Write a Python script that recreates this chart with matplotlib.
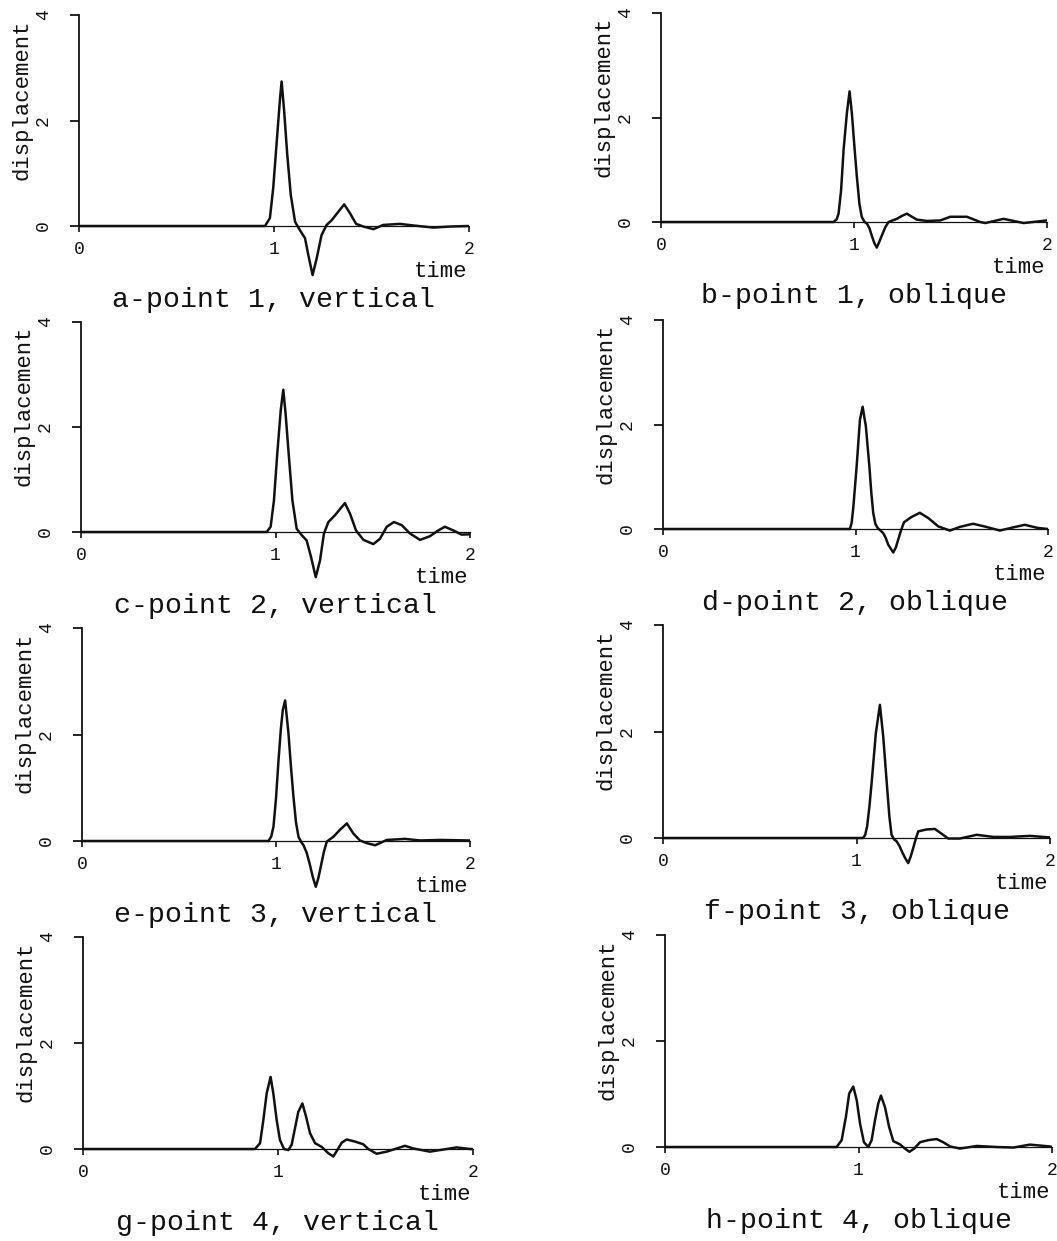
import matplotlib
matplotlib.use("Agg")
import matplotlib.pyplot as plt

plt.rcParams["font.family"] = ["Liberation Mono", "DejaVu Sans Mono"]

# ---------------------------------------------------------------- data
titles = ["a-point 1, vertical", "b-point 1, oblique",
          "c-point 2, vertical", "d-point 2, oblique",
          "e-point 3, vertical", "f-point 3, oblique",
          "g-point 4, vertical", "h-point 4, oblique"]

x_ticks = [0, 1, 2]
y_ticks = [0, 2, 4]
x_label = "time"
y_label = "displacement"

t_a = [0.0, 0.954, 0.979, 0.996, 1.014, 1.031, 1.039, 1.051, 1.068, 1.086,
       1.108, 1.133, 1.159, 1.176, 1.198, 1.219, 1.244, 1.27, 1.296, 1.33,
       1.36, 1.39, 1.421, 1.458, 1.51, 1.56, 1.646, 1.714, 1.817, 1.903, 2.0]
d_a = [0.0, 0.0, 0.15, 0.72, 1.6, 2.42, 2.74, 2.23, 1.35, 0.59,
       0.08, -0.08, -0.23, -0.55, -0.93, -0.61, -0.17, 0.02, 0.11, 0.27,
       0.41, 0.24, 0.04, -0.01, -0.06, 0.02, 0.04, 0.01, -0.03, -0.01, 0.0]

t_b = [0.0, 0.894, 0.91, 0.92, 0.933, 0.946, 0.963, 0.977, 0.989, 1.002,
       1.015, 1.028, 1.04, 1.055, 1.067, 1.08, 1.092, 1.105, 1.118, 1.131,
       1.144, 1.162, 1.179, 1.2, 1.222, 1.25, 1.274, 1.3, 1.326, 1.378,
       1.447, 1.499, 1.585, 1.654, 1.68, 1.775, 1.879, 2.0]
d_b = [0.0, 0.0, 0.05, 0.16, 0.6, 1.38, 2.08, 2.5, 2.08, 1.45,
       0.86, 0.35, 0.1, 0.0, -0.03, -0.12, -0.26, -0.4, -0.49, -0.38,
       -0.26, -0.1, 0.0, 0.03, 0.06, 0.12, 0.16, 0.1, 0.045, 0.02,
       0.03, 0.1, 0.1, 0.0, -0.02, 0.06, -0.02, 0.03]

t_c = [0.0, 0.955, 0.975, 0.992, 1.009, 1.027, 1.04, 1.052, 1.069, 1.087,
       1.109, 1.135, 1.16, 1.183, 1.207, 1.229, 1.249, 1.272, 1.306, 1.332,
       1.357, 1.383, 1.414, 1.452, 1.503, 1.537, 1.572, 1.609, 1.649, 1.692,
       1.743, 1.794, 1.837, 1.871, 1.914, 1.957, 1.991, 2.0]
d_c = [0.0, 0.0, 0.1, 0.6, 1.49, 2.32, 2.71, 2.25, 1.43, 0.6,
       0.06, -0.06, -0.16, -0.48, -0.86, -0.54, -0.03, 0.19, 0.32, 0.44,
       0.55, 0.35, 0.03, -0.15, -0.23, -0.13, 0.1, 0.19, 0.13, -0.03,
       -0.15, -0.08, 0.03, 0.1, 0.03, -0.05, -0.045, -0.04]

t_d = [0.0, 0.971, 0.98, 0.989, 1.006, 1.023, 1.037, 1.054, 1.072, 1.082,
       1.092, 1.103, 1.115, 1.13, 1.144, 1.157, 1.17, 1.196, 1.21, 1.222,
       1.237, 1.252, 1.291, 1.334, 1.378, 1.43, 1.49, 1.542, 1.611, 1.68,
       1.75, 1.818, 1.879, 1.948, 2.0]
d_d = [0.0, 0.0, 0.12, 0.43, 1.2, 2.09, 2.34, 1.96, 1.2, 0.7,
       0.31, 0.1, 0.02, -0.03, -0.08, -0.17, -0.3, -0.45, -0.35, -0.2,
       -0.02, 0.13, 0.23, 0.31, 0.21, 0.05, -0.03, 0.04, 0.1, 0.04,
       -0.03, 0.03, 0.08, 0.02, 0.0]

t_e = [0.0, 0.961, 0.975, 0.987, 1.0, 1.013, 1.025, 1.035, 1.047, 1.064,
       1.077, 1.09, 1.103, 1.116, 1.13, 1.142, 1.158, 1.173, 1.19, 1.205,
       1.218, 1.231, 1.247, 1.262, 1.296, 1.33, 1.365, 1.399, 1.433, 1.468,
       1.511, 1.571, 1.665, 1.742, 1.845, 2.0]
d_e = [0.0, 0.0, 0.08, 0.27, 0.8, 1.52, 2.1, 2.46, 2.64, 2.03,
       1.4, 0.83, 0.35, 0.08, -0.02, -0.08, -0.22, -0.42, -0.68, -0.86,
       -0.7, -0.48, -0.2, -0.01, 0.08, 0.21, 0.33, 0.14, 0.01, -0.04,
       -0.08, 0.02, 0.04, 0.01, 0.02, 0.01]

t_f = [0.0, 1.034, 1.045, 1.055, 1.067, 1.078, 1.1, 1.121, 1.138, 1.159,
       1.17, 1.181, 1.195, 1.207, 1.222, 1.238, 1.252, 1.267, 1.28, 1.293,
       1.306, 1.319, 1.362, 1.405, 1.44, 1.474, 1.534, 1.621, 1.707, 1.793,
       1.897, 2.0]
d_f = [0.0, 0.0, 0.06, 0.22, 0.6, 1.03, 1.97, 2.5, 1.91, 0.91,
       0.4, 0.06, -0.03, -0.06, -0.15, -0.28, -0.38, -0.47, -0.35, -0.19,
       -0.02, 0.125, 0.16, 0.17, 0.08, -0.01, -0.01, 0.06, 0.02, 0.02,
       0.04, 0.01]

t_g = [0.0, 0.882, 0.908, 0.925, 0.942, 0.962, 0.976, 0.993, 1.01, 1.031,
       1.053, 1.07, 1.087, 1.104, 1.125, 1.144, 1.164, 1.19, 1.224, 1.258,
       1.284, 1.304, 1.327, 1.352, 1.395, 1.437, 1.463, 1.506, 1.557, 1.609,
       1.651, 1.694, 1.779, 1.848, 1.916, 1.985, 2.0]
d_g = [0.0, 0.0, 0.11, 0.55, 1.05, 1.36, 1.05, 0.55, 0.17, 0.0,
       -0.02, 0.08, 0.39, 0.7, 0.86, 0.61, 0.3, 0.11, 0.04, -0.08,
       -0.14, -0.02, 0.12, 0.18, 0.14, 0.09, 0.0, -0.09, -0.05, 0.01,
       0.06, 0.01, -0.05, -0.01, 0.03, 0.0, 0.0]

t_h = [0.0, 0.887, 0.913, 0.935, 0.952, 0.973, 0.991, 1.008, 1.028, 1.051,
       1.068, 1.085, 1.102, 1.116, 1.137, 1.158, 1.18, 1.214, 1.24, 1.263,
       1.288, 1.318, 1.361, 1.404, 1.438, 1.473, 1.525, 1.611, 1.714, 1.8,
       1.886, 1.99, 2.0]
d_h = [0.0, 0.0, 0.13, 0.57, 1.01, 1.14, 0.88, 0.44, 0.09, 0.0,
       0.13, 0.5, 0.82, 0.97, 0.75, 0.38, 0.11, 0.05, -0.03, -0.09,
       -0.03, 0.09, 0.13, 0.15, 0.09, 0.01, -0.03, 0.02, 0.0, -0.01,
       0.045, 0.01, 0.0]

series = [(t_a, d_a), (t_b, d_b), (t_c, d_c), (t_d, d_d),
          (t_e, d_e), (t_f, d_f), (t_g, d_g), (t_h, d_h)]

# ---------------------------------------------------------------- layout
W, H = 1057, 1241
DPI = 100
PT = 72.0 / DPI          # points per pixel
Y_LOW, Y_HIGH = -1.2, 4.0

# pixel frame of each panel: x where t=0, x where t=2, y where d=4, y where d=0
frames = [(79, 469, 15, 226), (661, 1047, 13, 222),
          (81, 470, 322, 532), (663, 1048, 320, 529),
          (82, 470, 628, 841), (663, 1050, 625, 838),
          (83, 473, 937, 1149), (665, 1052, 935, 1147)]

fig = plt.figure(figsize=(W / DPI, H / DPI), dpi=DPI)
fig.patch.set_facecolor("white")

INK = "#111111"

for i, ((t, d), title, (x0, x2, ytop, yzero)) in enumerate(zip(series, titles, frames)):
    unit = (yzero - ytop) / (Y_HIGH - 0.0)
    ybot = yzero + (0.0 - Y_LOW) * unit
    ax = fig.add_axes([x0 / W, 1 - ybot / H, (x2 - x0) / W, (ybot - ytop) / H])
    ax.set_xlim(0, 2)
    ax.set_ylim(Y_LOW, Y_HIGH)
    ax.patch.set_alpha(0)

    for side in ("top", "right"):
        ax.spines[side].set_visible(False)
    ax.spines["left"].set_bounds(0, 4)
    ax.spines["left"].set_linewidth(1.3)
    ax.spines["left"].set_color(INK)
    ax.spines["bottom"].set_position(("data", 0))
    ax.spines["bottom"].set_bounds(0, 2)
    ax.spines["bottom"].set_linewidth(0.9)
    ax.spines["bottom"].set_color(INK)

    ax.set_xticks(x_ticks)
    ax.set_xticklabels([str(v) for v in x_ticks])
    ax.set_yticks(y_ticks)
    ax.set_yticklabels([str(v) for v in y_ticks], rotation=90, va="center")
    ax.tick_params(axis="x", direction="out", length=6 * PT, width=1.2,
                   color=INK, labelsize=13, pad=9 * PT, labelcolor=INK)
    ax.tick_params(axis="y", direction="out", length=9 * PT, width=1.3,
                   color=INK, labelsize=13, pad=18 * PT, labelcolor=INK)

    ax.plot(t, d, color=INK, lw=1.8, solid_joinstyle="round", zorder=3)

    # axis names and panel caption
    ax.annotate(y_label, xy=(0, 2.4), xycoords="data",
                xytext=(-57 * PT, 0), textcoords="offset points",
                rotation=90, ha="center", va="center", fontsize=16,
                color=INK, annotation_clip=False)
    ax.annotate(x_label, xy=(2, 0), xycoords="data",
                xytext=(-2 * PT, -51 * PT), textcoords="offset points",
                ha="right", va="baseline", fontsize=16, color=INK,
                annotation_clip=False)
    ax.annotate(title, xy=(1, 0), xycoords="data",
                xytext=(0, -81 * PT), textcoords="offset points",
                ha="center", va="baseline", fontsize=20.3, color=INK,
                annotation_clip=False)

fig.savefig("out.png", dpi=DPI, facecolor="white")
